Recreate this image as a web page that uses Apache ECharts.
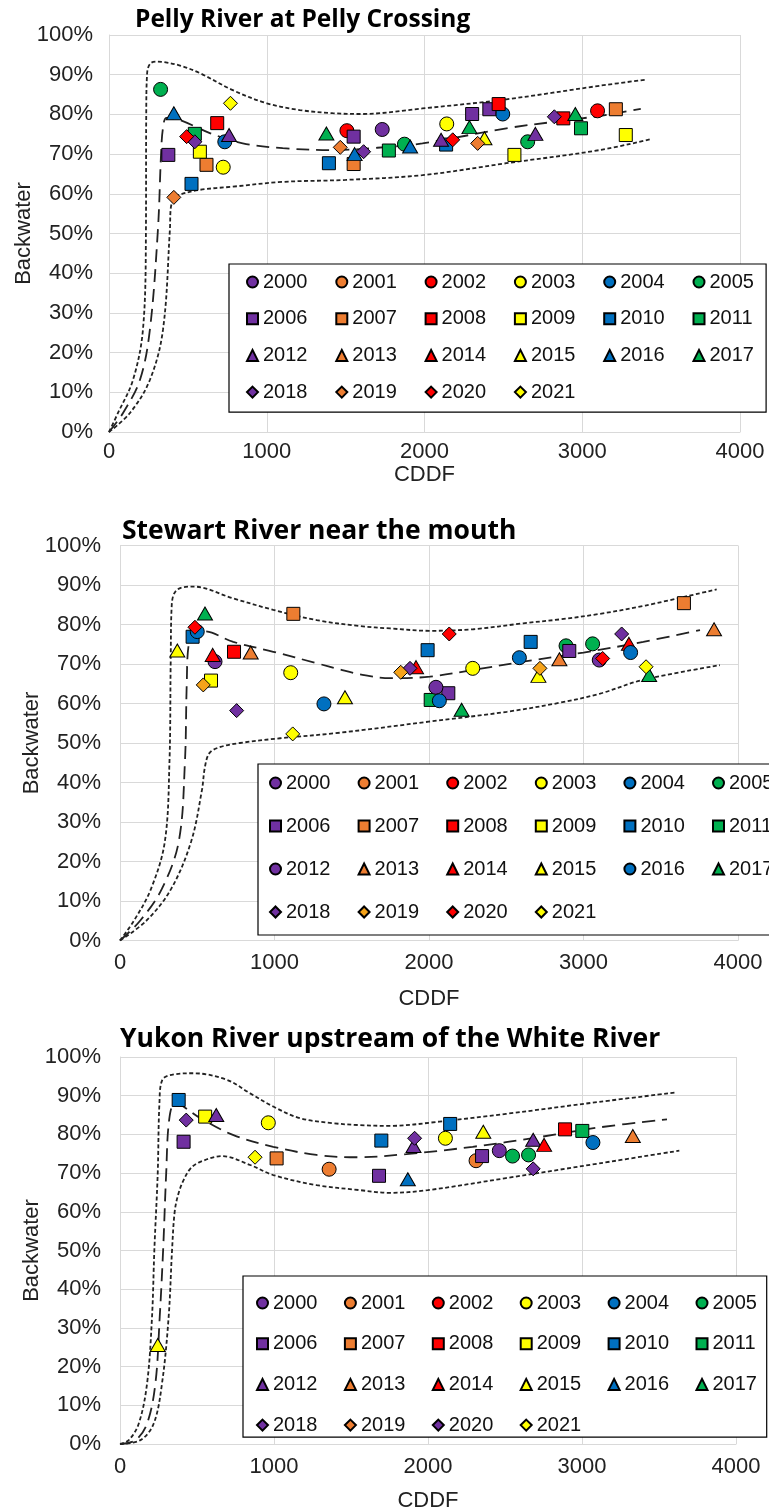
<!DOCTYPE html>
<html>
<head>
<meta charset="utf-8">
<script src="https://cdn.jsdelivr.net/npm/echarts@6/dist/echarts.min.js"></script>
<style>
  html, body { margin: 0; padding: 0; background: #fff; }
  #chart { width: 769px; height: 1510px; }
</style>
</head>
<body>
<div id="chart"></div>
<script>
// years shown in every legend
const years = [2000, 2001, 2002, 2003, 2004, 2005, 2006, 2007, 2008, 2009, 2010,
  2011, 2012, 2013, 2014, 2015, 2016, 2017, 2018, 2019, 2020, 2021];
const xTicks = [0, 1000, 2000, 3000, 4000];

// [year, CDDF, backwater %]
const pellyPoints = [
  [2005, 327, 86.3], [2021, 770, 82.8], [2016, 411, 80.3], [2008, 686, 77.8],
  [2011, 544, 75.1], [2020, 492, 74.4], [2018, 544, 73.1], [2012, 761, 74.8],
  [2004, 734, 73.1], [2006, 376, 69.8], [2009, 576, 70.6], [2007, 618, 67.3],
  [2003, 724, 66.7], [2010, 523, 62.5], [2019, 411, 59.1],
  [2017, 1378, 75.2], [2002, 1508, 75.9], [2006, 1551, 74.4], [2019, 1466, 71.7],
  [2018, 1614, 70.6], [2016, 1557, 70.0], [2010, 1394, 67.7], [2007, 1551, 67.5],
  [2000, 1732, 76.2], [2011, 1774, 70.9], [2005, 1873, 72.5], [2016, 1909, 71.9],
  [2003, 2141, 77.6], [2010, 2137, 72.4], [2012, 2105, 73.6], [2020, 2179, 73.6],
  [2006, 2302, 80.1], [2017, 2285, 76.8], [2019, 2337, 72.7], [2015, 2380, 74.0],
  [2006, 2411, 81.3], [2008, 2470, 82.6], [2004, 2496, 80.1], [2009, 2570, 69.8],
  [2005, 2654, 73.1], [2012, 2703, 75.1], [2018, 2823, 79.4], [2008, 2880, 79.0],
  [2017, 2956, 80.1], [2011, 2992, 76.5], [2002, 3097, 80.9], [2007, 3213, 81.3],
  [2009, 3276, 74.8]
];
const stewartPoints = [
  [2007, 1122, 82.7], [2017, 550, 82.8], [2016, 500, 78.2], [2020, 485, 79.3],
  [2010, 470, 76.9], [2015, 371, 73.4], [2012, 615, 70.6], [2014, 600, 72.3],
  [2008, 738, 73.1], [2013, 846, 72.9], [2009, 589, 65.8], [2019, 539, 64.7],
  [2003, 1105, 67.8], [2016, 1320, 59.9], [2015, 1456, 61.6], [2018, 755, 58.2],
  [2021, 1118, 52.3],
  [2020, 2131, 77.6], [2010, 1991, 73.5], [2010, 2658, 75.6], [2019, 1817, 67.9],
  [2018, 1877, 68.9], [2014, 1916, 69.2], [2003, 2283, 68.9], [2012, 2045, 64.1],
  [2006, 2125, 62.6], [2011, 2011, 60.9], [2016, 2067, 60.7], [2017, 2211, 58.4],
  [2016, 2585, 71.6], [2013, 2844, 71.2], [2005, 2887, 74.6], [2006, 2908, 73.3],
  [2015, 2708, 67.0], [2019, 2718, 68.9], [2005, 3059, 75.1], [2012, 3102, 71.0],
  [2020, 3124, 71.4], [2018, 3247, 77.6], [2016, 3305, 72.9], [2014, 3294, 75.1],
  [2017, 3425, 67.2], [2021, 3405, 69.3], [2007, 3650, 85.4], [2013, 3845, 78.8]
];
const yukonPoints = [
  [2010, 381, 88.9], [2018, 430, 83.7], [2009, 553, 84.6], [2012, 625, 85.0],
  [2006, 413, 78.1], [2003, 963, 83.0], [2021, 877, 74.1], [2007, 1017, 73.8],
  [2001, 1358, 71.0], [2015, 245, 25.6],
  [2010, 1697, 78.4], [2020, 1913, 79.0], [2012, 1906, 77.0], [2006, 1682, 69.3],
  [2016, 1869, 68.4], [2010, 2144, 82.7], [2003, 2113, 79.0], [2015, 2359, 80.7],
  [2001, 2312, 73.2], [2006, 2351, 74.4], [2000, 2463, 75.8], [2005, 2549, 74.4],
  [2005, 2653, 74.7], [2012, 2683, 78.6], [2014, 2754, 77.3], [2018, 2683, 71.1],
  [2008, 2890, 81.3], [2011, 3002, 80.9], [2004, 3071, 77.9], [2013, 3330, 79.6]
];

// envelope curves [CDDF, backwater %]
const pellyUpper = [[0, 0], [57, 4.8], [152, 13.1], [215, 25.7], [234, 50], [236, 80],
  [242, 90.5], [262, 92.8], [300, 93.3], [345, 93.2], [450, 92.3], [576, 90.4], [785, 86.1],
  [1000, 82.8], [1209, 81.1], [1418, 80.3], [1600, 80.1], [1987, 81.5], [2519, 83.8],
  [3108, 87.2], [3411, 88.8]];
const pellyMiddle = [[0, 0], [89, 4.8], [196, 13.1], [259, 25.7], [310, 50.9], [330, 70],
  [342, 76.5], [365, 79.1], [449, 78.6], [639, 75.3], [848, 72.7], [1101, 71.5],
  [1418, 71.0], [1700, 71.6], [1987, 72.7], [2519, 76.5], [2835, 78.2], [3108, 79.6],
  [3371, 81.4]];
const pellyLower = [[0, 0], [133, 4.8], [259, 13.1], [342, 25.7], [386, 50.9], [392, 56.5],
  [415, 59], [449, 59.8], [576, 61], [785, 61.8], [1101, 63], [1500, 63.5], [1987, 64.7],
  [2519, 67.7], [3108, 71], [3428, 73.7]];

const stewartUpper = [[0, 0], [90, 5], [200, 13], [290, 25], [320, 45], [328, 70], [335, 85],
  [367, 88.7], [474, 89.6], [733, 86.6], [992, 83.7], [1273, 81.1], [1553, 79.6],
  [1748, 79.0], [2006, 78.4], [2287, 78.8], [2610, 80.3], [2848, 81.3], [3107, 82.7],
  [3400, 84.8], [3862, 88.9]];
const stewartMiddle = [[0, 0], [130, 5], [270, 13], [380, 25], [420, 45], [432, 65],
  [445, 75], [496, 78.2], [540, 78.3], [733, 75.6], [992, 73.1], [1273, 70.2], [1424, 68.6],
  [1553, 67.4], [1748, 66.4], [2006, 66.8], [2285, 68.5], [2610, 70.6], [3000, 72.9],
  [3387, 75.6], [3754, 78.6]];
const stewartLower = [[0, 0], [170, 5], [330, 13], [460, 25], [530, 38], [550, 44],
  [580, 47.5], [650, 49], [777, 50], [1036, 51.2], [1424, 52.6], [1998, 55.4], [2503, 57.9],
  [2848, 60.2], [3107, 62.5], [3387, 66], [3883, 69.7]];

const yukonUpper = [[0, 0], [57, 1.0], [122, 5.3], [176, 15.7], [208, 32.9], [223, 50.1],
  [245, 70], [256, 88], [275, 94.1], [350, 95.5], [478, 95.8], [694, 94.1], [845, 90.6],
  [995, 87.2], [1168, 84.2], [1384, 82.9], [1557, 82.4], [1751, 82.2], [2074, 83.3],
  [2506, 85.3], [3110, 88.4], [3602, 90.8]];
const yukonMiddle = [[0, 0], [101, 1.0], [176, 5.3], [230, 15.7], [258, 32.9], [280, 50.1],
  [300, 70], [320, 84], [359, 88.0], [521, 84.2], [737, 79.8], [995, 76.8], [1276, 74.7],
  [1535, 74.1], [1859, 74.9], [2290, 76.8], [2722, 79.3], [3110, 81.8], [3552, 83.9]];
const yukonLower = [[0, 0], [133, 1.0], [219, 5.3], [273, 15.7], [316, 32.9], [338, 50.1],
  [355, 60], [378, 64.5], [413, 68.2], [460, 71.3], [521, 72.9], [661, 74.4], [845, 72.1],
  [995, 69.5], [1276, 66.9], [1557, 65.6], [1750, 64.9], [1999, 65.6], [2506, 68.7],
  [3110, 72.5], [3632, 75.8]];

const palette = ['#7030A0', '#ED7D31', '#FF0000', '#FFFF00', '#0070C0', '#00B050'];

function markerFor(panel, year) {
  const k = year - 2000;
  let symbol = k < 6 ? 'circle' : k < 12 ? 'rect' : k < 18 ? 'triangle' : 'diamond';
  let color = palette[k % 6];
  if (panel === 1 && (year === 2012 || year === 2016)) symbol = 'circle';
  if (panel === 1 && year === 2019) color = '#F5A31A';
  if (panel === 2 && year === 2020) color = '#7030A0';
  const size = { circle: 14, rect: 13, triangle: [15, 13], diamond: 14 }[symbol];
  return { symbol, color, size };
}

const panels = [
  { key: 'Pelly', title: 'Pelly River at Pelly Crossing', points: pellyPoints,
    curves: [pellyUpper, pellyMiddle, pellyLower] },
  { key: 'Stewart', title: 'Stewart River near the mouth', points: stewartPoints,
    curves: [stewartUpper, stewartMiddle, stewartLower] },
  { key: 'Yukon', title: 'Yukon River upstream of the White River', points: yukonPoints,
    curves: [yukonUpper, yukonMiddle, yukonLower] }
];

// layout of each panel (px)
const layout = [
  { grid: { left: 109, top: 35, width: 631, height: 397 },
    title: { left: 135, top: 8, size: 24.5 },
    yLabelMargin: 16, yNameGap: 74, xLabelMargin: 9, xNameGap: 28,
    legend: { left: 229, top: 264, padding: [8, 1, 10, 17], gap: 16.7, textW: 55.6 } },
  { grid: { left: 120, top: 545.5, width: 618, height: 395 },
    title: { left: 122, top: 518, size: 26.5 },
    yLabelMargin: 19, yNameGap: 77, xLabelMargin: 11, xNameGap: 47,
    legend: { left: 258, top: 764, padding: [9, 10, 13, 11], gap: 23, textW: 48.6 } },
  { grid: { left: 120, top: 1057, width: 616, height: 387 },
    title: { left: 120, top: 1026, size: 26.5 },
    yLabelMargin: 19, yNameGap: 77, xLabelMargin: 12, xNameGap: 46,
    legend: { left: 243, top: 1276, padding: [17, 4, 2, 13], gap: 20.7, textW: 50.2 } }
];

const font = 'Liberation Sans, Arial, sans-serif';
const gridColor = '#D9D9D9';

const option = {
  animation: false,
  backgroundColor: '#fff',
  title: panels.map((p, i) => ({
    text: p.title, left: layout[i].title.left, top: layout[i].title.top, padding: 0,
    textStyle: { fontFamily: 'Open Sans', fontWeight: 'bold', fontSize: layout[i].title.size, color: '#000' }
  })),
  grid: layout.map(l => Object.assign({ containLabel: false, outerBoundsMode: 'none' }, l.grid)),
  xAxis: panels.map((p, i) => ({
    type: 'value', gridIndex: i, min: xTicks[0], max: xTicks[xTicks.length - 1], interval: 1000,
    name: 'CDDF', nameLocation: 'middle', nameGap: layout[i].xNameGap,
    nameTextStyle: { fontFamily: font, fontSize: 22, color: '#222' },
    axisLine: { show: true, lineStyle: { color: gridColor, width: 1 } },
    axisTick: { show: false },
    axisLabel: { margin: layout[i].xLabelMargin, fontFamily: font, fontSize: 22, color: '#222',
      formatter: v => String(v) },
    splitLine: { show: true, lineStyle: { color: gridColor, width: 1 } }
  })),
  yAxis: panels.map((p, i) => ({
    type: 'value', gridIndex: i, min: 0, max: 100, interval: 10,
    name: 'Backwater', nameLocation: 'middle', nameGap: layout[i].yNameGap,
    nameMoveOverlap: false,
    nameTextStyle: { fontFamily: font, fontSize: 22, color: '#222' },
    axisLine: { show: true, lineStyle: { color: gridColor, width: 1 } },
    axisTick: { show: false },
    axisLabel: { margin: layout[i].yLabelMargin, fontFamily: font, fontSize: 22, color: '#222',
      formatter: '{value}%' },
    splitLine: { show: true, lineStyle: { color: gridColor, width: 1 } }
  })),
  legend: panels.map((p, i) => {
    const L = layout[i].legend;
    return {
      left: L.left, top: L.top, padding: L.padding,
      width: 6 * (16 + L.textW) + 5 * L.gap + 25,
      orient: 'horizontal', itemGap: L.gap, itemWidth: 11, itemHeight: 11,
      backgroundColor: '#fff', borderColor: '#000', borderWidth: 1.2,
      data: years.map(y => p.key + ' ' + y),
      formatter: name => name.split(' ')[1],
      textStyle: { fontFamily: font, fontSize: 20, lineHeight: 20, color: '#111', width: L.textW },
      selectedMode: false
    };
  }),
  series: []
};

panels.forEach((p, i) => {
  p.curves.forEach((c, j) => {
    option.series.push({
      type: 'line', xAxisIndex: i, yAxisIndex: i, data: c, smooth: 0.35,
      symbol: 'none', silent: true, z: 2,
      lineStyle: { color: '#222', width: 1.8, type: j === 1 ? [13, 7] : [4, 2.5] }
    });
  });
  years.forEach(y => {
    const m = markerFor(i, y);
    option.series.push({
      type: 'scatter', name: p.key + ' ' + y, xAxisIndex: i, yAxisIndex: i, z: 3,
      symbol: m.symbol, symbolSize: m.size,
      itemStyle: { color: m.color, borderColor: '#000', borderWidth: 1, opacity: 1 },
      data: p.points.filter(d => d[0] === y).map(d => [d[1], d[2]])
    });
  });
});

const chart = echarts.init(document.getElementById('chart'), null, { renderer: 'canvas' });
chart.setOption(option);
</script>
</body>
</html>
